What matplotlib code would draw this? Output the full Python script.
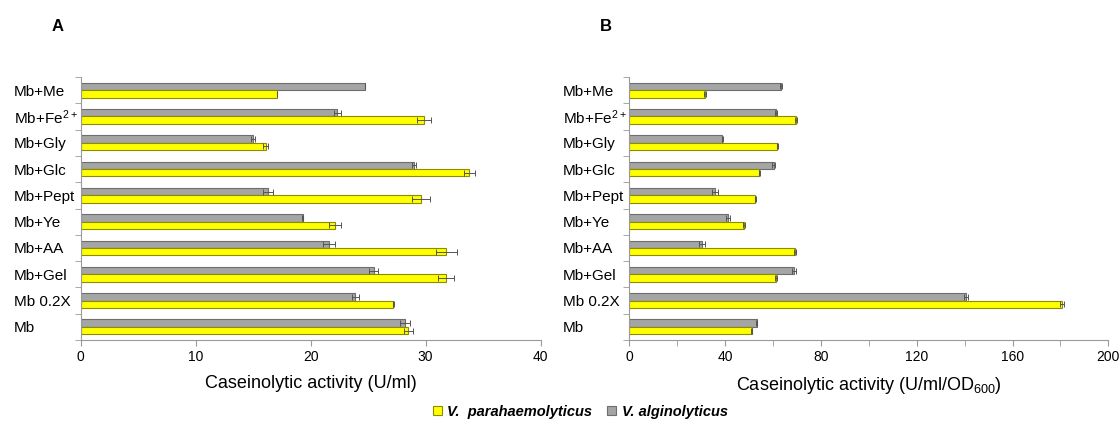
import numpy as np
import matplotlib
matplotlib.use("Agg")
import matplotlib.pyplot as plt
from matplotlib.patches import Patch
from matplotlib.ticker import MultipleLocator, FixedLocator

plt.rcParams["font.family"] = ["Liberation Sans", "DejaVu Sans"]
plt.rcParams["mathtext.default"] = "regular"

# categories from bottom to top
media = ["Mb", "Mb 0.2X", "Mb+Gel", "Mb+AA", "Mb+Ye",
         "Mb+Pept", "Mb+Glc", "Mb+Gly", "Mb+Fe$^{2+}$", "Mb+Me"]

# panel A: U/ml
para_a = [28.5, 27.2, 31.8, 31.8, 22.1, 29.6, 33.8, 16.1, 29.85, 17.1]
para_a_err = [0.4, 0.05, 0.7, 0.9, 0.5, 0.8, 0.5, 0.2, 0.6, 0.0]
algi_a = [28.2, 23.9, 25.5, 21.6, 19.3, 16.3, 29.0, 15.0, 22.3, 24.7]
algi_a_err = [0.4, 0.3, 0.4, 0.5, 0.05, 0.4, 0.2, 0.15, 0.3, 0.0]

# panel B: U/ml/OD600
para_b = [51.1, 180.6, 61.2, 69.0, 47.9, 52.6, 54.3, 61.8, 69.4, 31.6]
para_b_err = [0.3, 0.7, 0.3, 0.4, 0.3, 0.3, 0.3, 0.3, 0.4, 0.3]
algi_b = [53.2, 140.5, 68.7, 30.2, 41.2, 35.8, 60.3, 38.8, 61.2, 63.4]
algi_b_err = [0.3, 0.7, 0.8, 1.2, 0.7, 1.2, 0.6, 0.3, 0.5, 0.3]

yellow = "#FFFF00"
yellow_edge = "#8C8C00"
grey = "#A5A5A5"
grey_edge = "#6E6E6E"
axis_col = "#9A9A9A"

fig = plt.figure(figsize=(11.2, 4.21), dpi=100)
ax_a = fig.add_axes([0.072, 0.1924, 0.4107, 0.6247])
ax_b = fig.add_axes([0.5619, 0.1924, 0.4277, 0.6247])

y = np.arange(len(media))
h = 0.28
err_kw = dict(ecolor="#555555", elinewidth=0.7, capsize=2.5, capthick=0.7)


def draw(ax, para, para_err, algi, algi_err, xmax, major, minor, xlabel):
    ax.barh(y + h / 2, algi, height=h, color=grey, edgecolor=grey_edge,
            linewidth=0.8, xerr=algi_err, error_kw=err_kw)
    ax.barh(y - h / 2, para, height=h, color=yellow, edgecolor=yellow_edge,
            linewidth=0.8, xerr=para_err, error_kw=err_kw)
    ax.set_xlim(0, xmax)
    ax.set_ylim(-0.5, len(media) - 0.5)
    ax.xaxis.set_major_locator(MultipleLocator(major))
    ax.xaxis.set_minor_locator(MultipleLocator(minor))
    ax.tick_params(axis="x", which="both", direction="out", length=4,
                   color=axis_col, labelsize=10, pad=3)
    ax.set_yticks(y)
    ax.set_yticklabels(media, fontsize=11, ha="left")
    ax.yaxis.set_minor_locator(FixedLocator(np.arange(-0.5, len(media), 1)))
    ax.tick_params(axis="y", which="major", length=0, pad=48)
    ax.tick_params(axis="y", which="minor", direction="out", length=4,
                   color=axis_col)
    for s in ["top", "right"]:
        ax.spines[s].set_visible(False)
    for s in ["left", "bottom"]:
        ax.spines[s].set_color(axis_col)
        ax.spines[s].set_linewidth(0.8)
    ax.set_xlabel(xlabel, fontsize=13, labelpad=8)


draw(ax_a, para_a, para_a_err, algi_a, algi_a_err, 40, 10, 10,
     "Caseinolytic activity (U/ml)")
draw(ax_b, para_b, para_b_err, algi_b, algi_b_err, 200, 40, 20,
     "Caseinolytic activity (U/ml/OD$_{600}$)")

fig.text(0.051, 0.937, "A", fontsize=12, fontweight="bold", ha="center", va="center")
fig.text(0.541, 0.937, "B", fontsize=12, fontweight="bold", ha="center", va="center")

handles = [Patch(facecolor=yellow, edgecolor=yellow_edge, linewidth=0.8),
           Patch(facecolor=grey, edgecolor=grey_edge, linewidth=0.8)]
fig.legend(handles, ["V.  parahaemolyticus", "V. alginolyticus"],
           loc="center", bbox_to_anchor=(0.518, 0.022), ncol=2, frameon=False,
           handlelength=0.6, handleheight=0.6, handletextpad=0.4,
           columnspacing=1.0,
           prop=dict(size=10.5, weight="bold", style="italic"))

fig.savefig("out.png", dpi=100)
